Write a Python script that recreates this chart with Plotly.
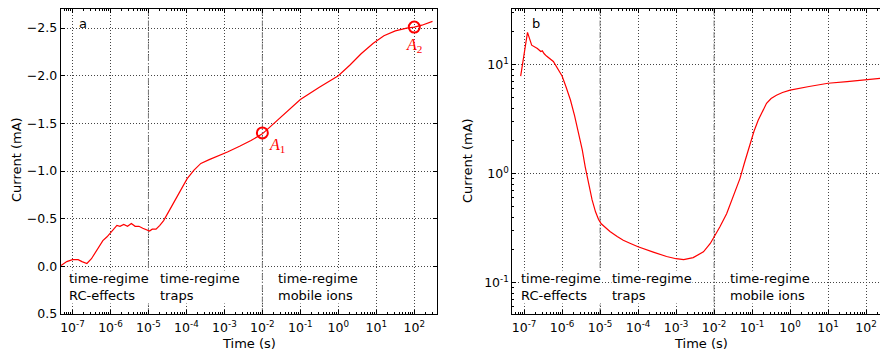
import plotly.graph_objects as go

# ---------------- data ----------------
# panel a: log10(time / s) and current (mA)
log_t_a = [-7.3, -7.15, -7.0, -6.85, -6.75, -6.62, -6.5, -6.35, -6.2, -6.09, -6.0, -5.9,
           -5.83, -5.75, -5.65, -5.55, -5.45, -5.35, -5.25, -5.15, -5.05, -4.97, -4.9,
           -4.8, -4.7, -4.6, -4.5, -4.35, -4.15, -3.98, -3.8, -3.62, -3.4, -3.2, -2.92,
           -2.6, -2.3, -2.0, -1.5, -1.0, -0.5, 0.0, 0.3, 0.6, 0.92, 1.2, 1.5, 1.8, 2.0,
           2.2, 2.48]
current_a = [-0.01, -0.05, -0.07, -0.07, -0.05, -0.03, -0.08, -0.18, -0.27, -0.31, -0.35,
             -0.40, -0.43, -0.42, -0.44, -0.42, -0.45, -0.42, -0.42, -0.40, -0.38, -0.37,
             -0.39, -0.39, -0.43, -0.48, -0.55, -0.66, -0.80, -0.92, -1.01, -1.08, -1.12,
             -1.15, -1.20, -1.26, -1.32, -1.39, -1.57, -1.75, -1.88, -2.00, -2.11, -2.23,
             -2.34, -2.42, -2.47, -2.50, -2.51, -2.53, -2.57]

# panel b: log10(time / s) and |current| (mA)
log_t_b = [-7.09, -6.91, -6.8, -6.65, -6.56, -6.52, -6.47, -6.41, -6.23, -6.0, -5.9, -5.78,
           -5.67, -5.56, -5.47, -5.39, -5.30, -5.21, -5.12, -5.04, -4.97, -4.85, -4.74,
           -4.55, -4.39, -4.2, -4.0, -3.6, -3.25, -3.0, -2.8, -2.55, -2.28, -2.1, -2.0,
           -1.85, -1.67, -1.5, -1.32, -1.2, -1.05, -0.95, -0.84, -0.72, -0.62, -0.5,
           -0.36, -0.2, 0.0, 0.5, 1.0, 1.5, 2.0, 2.37]
current_b = [7.87, 19.8, 15.1, 14.1, 13.2, 13.4, 12.6, 12.0, 10.7, 7.87, 6.31, 4.74, 3.39,
             2.34, 1.66, 1.15, 0.794, 0.575, 0.447, 0.380, 0.347, 0.316, 0.295, 0.266,
             0.245, 0.229, 0.214, 0.191, 0.174, 0.166, 0.163, 0.170, 0.192, 0.229, 0.263,
             0.324, 0.430, 0.617, 0.902, 1.26, 1.90, 2.45, 3.09, 3.80, 4.42, 4.90, 5.25,
             5.56, 5.85, 6.31, 6.76, 7.00, 7.24, 7.50]

marker_times = [1e-2, 1e2]
marker_currents = [-1.40, -2.51]
marker_labels = ["<i>A</i><sub>1</sub>", "<i>A</i><sub>2</sub>"]

regime_bounds = [1e-5, 1e-2]
regime_texts = ["time-regime<br>RC-effects", "time-regime<br>traps", "time-regime<br>mobile ions"]
regime_text_pos = [-7.11, -4.72, -1.62]

x_tick_exps = [-7, -6, -5, -4, -3, -2, -1, 0, 1, 2]
y_ticks_a = [-2.5, -2.0, -1.5, -1.0, -0.5, 0.0, 0.5]
y_tick_text_a = ["\u22122.5", "\u22122.0", "\u22121.5", "\u22121.0", "\u22120.5", "0.0", "0.5"]
y_tick_exps_b = [-1, 0, 1]

# ---------------- figure ----------------
W, H = 880, 356
FONT = "DejaVu Sans"
RED = "#ff0000"

t_a = [10 ** v for v in log_t_a]
t_b = [10 ** v for v in log_t_b]

fig = go.Figure()
yr_a = [0.5, -2.7]
yr_b = [-1.287, 1.511]

# regime boundary lines
for xb in regime_bounds:
    fig.add_trace(go.Scatter(x=[xb, xb], y=yr_a, mode="lines", xaxis="x", yaxis="y",
                             line=dict(color="#7a7a7a", width=1, dash="6px,2px,1.5px,2px"),
                             showlegend=False, hoverinfo="skip"))
    fig.add_trace(go.Scatter(x=[xb, xb], y=[10 ** yr_b[0], 10 ** yr_b[1]], mode="lines",
                             xaxis="x2", yaxis="y2",
                             line=dict(color="#7a7a7a", width=1, dash="6px,2px,1.5px,2px"),
                             showlegend=False, hoverinfo="skip"))

fig.add_trace(go.Scatter(x=t_a, y=current_a, mode="lines", xaxis="x", yaxis="y",
                         line=dict(color=RED, width=1.2), showlegend=False))
fig.add_trace(go.Scatter(x=marker_times, y=marker_currents, mode="markers", xaxis="x", yaxis="y",
                         marker=dict(symbol="circle-open", size=11, color=RED,
                                     line=dict(width=2, color=RED)), showlegend=False))
fig.add_trace(go.Scatter(x=t_b, y=current_b, mode="lines", xaxis="x2", yaxis="y2",
                         line=dict(color=RED, width=1.2), showlegend=False))

tickfont = dict(family=FONT, size=12.5, color="black")
minor_x = [m * 10 ** e for e in range(-8, 3) for m in range(2, 10)]
minor_y_b = [m * 10 ** e for e in range(-2, 2) for m in range(2, 10)]
grid_common = dict(showgrid=True, gridcolor="#444", gridwidth=1, griddash="1px,2px",
                   showline=True, linecolor="black", linewidth=1, ticks="inside",
                   ticklen=4, tickcolor="black", tickfont=tickfont, zeroline=False,
                   automargin=False)

x_ticktext = ["10<sup>%d</sup>" % e for e in x_tick_exps]
x_tickvals = [10 ** e for e in x_tick_exps]

dom_y = [1 - 314 / H, 1 - 9 / H]
fig.update_layout(
    width=W, height=H, margin=dict(l=0, r=0, t=0, b=0),
    paper_bgcolor="white", plot_bgcolor="white",
    xaxis=dict(type="log", domain=[60.7 / W, 436.7 / W], range=[-7.31, 2.59],
               tickmode="array", tickvals=x_tickvals, ticktext=x_ticktext, mirror="allticks",
               minor=dict(ticks="inside", ticklen=2, tickcolor="black", tickmode="array",
                          tickvals=minor_x, showgrid=False),
               anchor="y", ticklabelstandoff=2, **grid_common),
    yaxis=dict(domain=dom_y, range=yr_a, tickmode="array", tickvals=y_ticks_a,
               ticktext=y_tick_text_a, mirror="allticks", anchor="x", **grid_common),
    xaxis2=dict(type="log", domain=[512.3 / W, 1.0], range=[-7.31, 2.366],
                tickmode="array", tickvals=x_tickvals, ticktext=x_ticktext, mirror="allticks",
                minor=dict(ticks="inside", ticklen=2, tickcolor="black", tickmode="array",
                           tickvals=minor_x, showgrid=False),
                anchor="y2", ticklabelstandoff=2, **grid_common),
    yaxis2=dict(type="log", domain=dom_y, range=yr_b, tickmode="array",
                tickvals=[10 ** e for e in y_tick_exps_b],
                ticktext=["10<sup>%d</sup>" % e for e in y_tick_exps_b], mirror=False,
                minor=dict(ticks="inside", ticklen=2, tickcolor="black", tickmode="array",
                           tickvals=minor_y_b, showgrid=False),
                anchor="x2", **grid_common),
)

ann = []
txtfont = dict(family=FONT, size=13, color="black")
# regime labels
for xr in ("x", "x2"):
    for txt, xp in zip(regime_texts, regime_text_pos):
        ann.append(dict(text=txt, x=xp, xref=xr, y=1 - 287 / H, yref="paper",
                        xanchor="left", yanchor="middle", align="left", showarrow=False,
                        font=txtfont, bgcolor="white", borderpad=0))
C = dict(xref="paper", yref="paper", xanchor="center", yanchor="middle", showarrow=False,
         font=txtfont)
# panel letters
ann.append(dict(text="a", x=83 / W, y=1 - 24 / H, **C))
ann.append(dict(text="b", x=536 / W, y=1 - 24 / H, **C))
# axis titles
ann.append(dict(text="Time (s)", x=249 / W, y=1 - 343 / H, **C))
ann.append(dict(text="Time (s)", x=701 / W, y=1 - 343 / H, **C))
ann.append(dict(text="Current (mA)", x=16 / W, y=1 - 160 / H, textangle=-90, **C))
ann.append(dict(text="Current (mA)", x=467 / W, y=1 - 160 / H, textangle=-90, **C))
# A1 / A2 labels
ann.append(dict(text=marker_labels[0], x=-1.89, xref="x", y=-1.27, yref="y",
                xanchor="left", yanchor="middle", showarrow=False,
                font=dict(family="Liberation Serif", size=16, color=RED)))
ann.append(dict(text=marker_labels[1], x=2.0, xref="x", y=-2.32, yref="y",
                xanchor="center", yanchor="middle", showarrow=False,
                font=dict(family="Liberation Serif", size=16, color=RED)))
fig.update_layout(annotations=ann)

fig.write_html("out.html")
